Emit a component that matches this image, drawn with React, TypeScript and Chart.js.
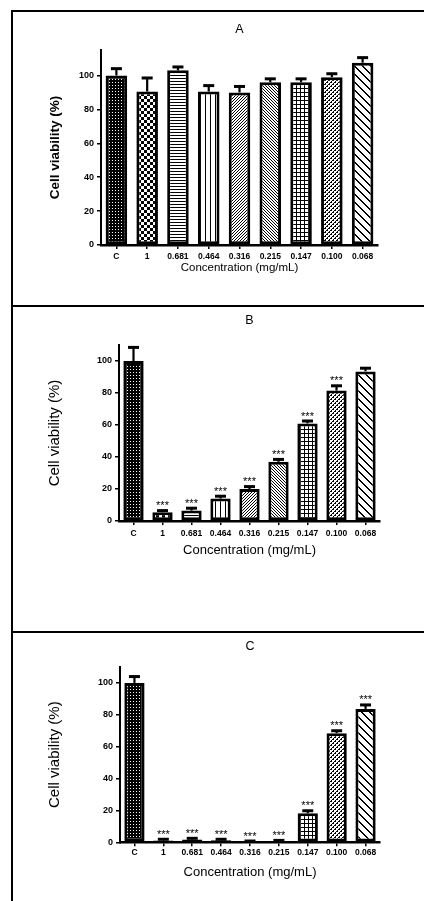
import React, { useEffect, useRef } from 'react';
import { Chart, registerables } from 'chart.js';

Chart.register(...registerables);

// ---------------- DATA ----------------
const categories = ['C', '1', '0.681', '0.464', '0.316', '0.215', '0.147', '0.100', '0.068'];
const yTickValues = [0, 20, 40, 60, 80, 100];
const panelTitles = ['A', 'B', 'C'];
const yAxisTitle = 'Cell viability (%)';
const xAxisTitle = 'Concentration (mg/mL)';

const valuesA = [100, 90.5, 103, 90.5, 90, 96, 96, 99, 107.5];
const errorsA = [4, 8, 2, 3.5, 3.5, 2, 2, 2, 3];
const starsA = [false, false, false, false, false, false, false, false, false];

const valuesB = [100, 5.5, 6.5, 14, 20, 37, 61, 81.5, 93.5];
const errorsB = [8.5, 1, 1.5, 1.5, 1.5, 1.5, 1.5, 3, 2];
const starsB = [false, true, true, true, true, true, true, true, false];

const valuesC = [100, 1.2, 1.8, 1.3, 0.5, 0.8, 18.2, 68.5, 83.7];
const errorsC = [4, 0.7, 0.7, 0.6, 0.3, 0.4, 1.6, 1.5, 2.5];
const starsC = [false, true, true, true, true, true, true, true, true];

const patternKinds = ['dots', 'checker', 'hlines', 'vlines', 'diagF', 'diagB', 'grid', 'diagCross', 'wideDiag'];

const FONT = "'Liberation Sans', Arial, Helvetica, sans-serif";

// ---------------- PATTERNS ----------------
function makePattern(kind: string): CanvasPattern | string {
  const c = document.createElement('canvas');
  let w = 4, h = 4;
  let px: (x: number, y: number) => boolean = () => false;
  let bg = '#fff', fg = '#000';
  switch (kind) {
    case 'dots':
      w = 3; h = 3; bg = '#000'; fg = '#fff';
      px = (x, y) => x === 1 && y === 1;
      break;
    case 'checker':
      w = 6; h = 6;
      px = (x, y) => (Math.floor(x / 3) + Math.floor(y / 3)) % 2 === 0;
      break;
    case 'hlines':
      w = 1; h = 3;
      px = (_x, y) => y === 0;
      break;
    case 'vlines':
      w = 5; h = 1;
      px = (x) => x === 0;
      break;
    case 'diagF':
      w = 3; h = 3;
      px = (x, y) => (x + y) % 3 === 0;
      break;
    case 'diagB':
      w = 3; h = 3;
      px = (x, y) => (x - y + 3) % 3 === 0;
      break;
    case 'grid':
      w = 4; h = 4;
      px = (x, y) => x === 0 || y === 0;
      break;
    case 'diagCross':
      w = 4; h = 4;
      px = (x, y) => (x + y) % 4 === 0 || ((x + y) % 4 === 1 && y % 2 === 0);
      break;
    case 'wideDiag':
      w = 8; h = 8;
      px = (x, y) => { const d = ((x - y) % 8 + 8) % 8; return d === 0 || d === 1; };
      break;
  }
  c.width = w; c.height = h;
  const ctx = c.getContext('2d')!;
  ctx.fillStyle = bg;
  ctx.fillRect(0, 0, w, h);
  ctx.fillStyle = fg;
  for (let y = 0; y < h; y++) for (let x = 0; x < w; x++) if (px(x, y)) ctx.fillRect(x, y, 1, 1);
  const p = ctx.createPattern(c, 'repeat');
  return p || '#888';
}

// ---------------- PANEL ----------------
interface Geo {
  canvasH: number;
  left: number;
  right: number;
  areaTop: number;
  areaBottom: number;
  titleCenter: number;
  titleSize: number;
  yTitleX: number;
  yTitleSize: number;
  yTitleBold: boolean;
  xTitleCenter: number;
  xTitleSize: number;
  xTickPad: number;
  yMax: number;
}

function Panel(props: { top: number; title: string; values: number[]; errors: number[]; stars: boolean[]; geo: Geo }) {
  const ref = useRef<HTMLCanvasElement | null>(null);
  const { top, title, values, errors, stars, geo } = props;

  useEffect(() => {
    const canvas = ref.current!;
    const patterns = patternKinds.map(makePattern);

    const titleLH = geo.titleSize * 1.2;
    const titlePadTop = geo.titleCenter - titleLH / 2;
    const titlePadBottom = geo.areaTop - titlePadTop - titleLH;

    const yTitleLH = geo.yTitleSize * 1.2;
    const xTitleLH = geo.xTitleSize * 1.2;
    const xScaleH = geo.xTitleCenter - geo.areaBottom + xTitleLH / 2;
    const padBottom = geo.canvasH - geo.areaBottom - xScaleH;

    const errPlugin = {
      id: 'errbars',
      afterDatasetsDraw(chart: any) {
        const ctx = chart.ctx as CanvasRenderingContext2D;
        const meta = chart.getDatasetMeta(0);
        const ys = chart.scales.y;
        ctx.save();
        ctx.strokeStyle = '#000';
        ctx.fillStyle = '#000';
        meta.data.forEach((bar: any, i: number) => {
          const x = bar.x;
          const yv = ys.getPixelForValue(values[i]);
          const ye = ys.getPixelForValue(values[i] + errors[i]);
          ctx.lineWidth = 2.2;
          ctx.beginPath();
          ctx.moveTo(x, yv);
          ctx.lineTo(x, ye);
          ctx.stroke();
          ctx.lineWidth = 3;
          ctx.beginPath();
          ctx.moveTo(x - 5.5, ye);
          ctx.lineTo(x + 5.5, ye);
          ctx.stroke();
          if (stars[i]) {
            ctx.font = `11px ${FONT}`;
            ctx.textAlign = 'center';
            ctx.textBaseline = 'alphabetic';
            ctx.fillText('***', x, ye - 1.5);
          }
        });
        ctx.restore();
      },
    };

    const chart = new Chart(canvas, {
      type: 'bar',
      data: {
        labels: categories,
        datasets: [
          {
            data: values,
            backgroundColor: patterns as any,
            borderColor: '#000',
            borderWidth: 3,
            borderSkipped: false,
            categoryPercentage: 1,
            barPercentage: 0.7,
          },
        ],
      },
      options: {
        animation: false,
        responsive: false,
        devicePixelRatio: 1,
        layout: {
          padding: { left: 0, top: 0, right: 424 - geo.right, bottom: padBottom },
        },
        plugins: {
          legend: { display: false },
          tooltip: { enabled: false },
          title: {
            display: true,
            text: title,
            fullSize: false,
            color: '#000',
            font: { family: FONT, size: geo.titleSize, weight: 'normal' },
            padding: { top: titlePadTop, bottom: titlePadBottom },
          },
        },
        scales: {
          x: {
            type: 'category',
            offset: true,
            afterFit: (s: any) => { s.height = xScaleH; },
            grid: {
              display: true,
              offset: false,
              drawOnChartArea: false,
              drawTicks: true,
              tickLength: 4,
              color: '#000',
              lineWidth: 1.5,
            },
            border: { display: true, color: '#000', width: 2.5, dash: [2, 1] },
            ticks: {
              color: '#000',
              font: { family: FONT, size: 8.5, weight: 'bold' },
              padding: geo.xTickPad,
              maxRotation: 0,
              autoSkip: false,
            },
            title: {
              display: true,
              text: xAxisTitle,
              color: '#000',
              font: { family: FONT, size: geo.xTitleSize, weight: 'normal' },
              padding: { top: 0, bottom: 0 },
            },
          },
          y: {
            type: 'linear',
            min: 0,
            max: geo.yMax,
            afterFit: (s: any) => { s.width = geo.left; },
            afterBuildTicks: (s: any) => { s.ticks = yTickValues.map((v) => ({ value: v })); },
            grid: {
              display: true,
              drawOnChartArea: false,
              drawTicks: true,
              tickLength: 4,
              color: '#000',
              lineWidth: 1.5,
            },
            border: { display: true, color: '#000', width: 2 },
            ticks: {
              color: '#000',
              font: { family: FONT, size: 9, weight: 'bold' },
              padding: 3,
            },
            title: {
              display: true,
              text: yAxisTitle,
              color: '#000',
              font: { family: FONT, size: geo.yTitleSize, weight: geo.yTitleBold ? 'bold' : 'normal' },
              padding: { top: geo.yTitleX - yTitleLH / 2, bottom: 0 },
            },
          },
        },
      },
      plugins: [errPlugin],
    } as any);
    return () => chart.destroy();
  }, []);

  return (
    <canvas
      ref={ref}
      width={424}
      height={geo.canvasH}
      style={{ position: 'absolute', left: 0, top, width: 424, height: geo.canvasH }}
    />
  );
}

const geoA: Geo = {
  canvasH: 305, left: 101, right: 378, areaTop: 50, areaBottom: 245,
  titleCenter: 29.3, titleSize: 12.5,
  yTitleX: 55, yTitleSize: 13.5, yTitleBold: true,
  xTitleCenter: 268, xTitleSize: 11.5, xTickPad: 3, yMax: 115,
};
const geoB: Geo = {
  canvasH: 326, left: 119, right: 380, areaTop: 40, areaBottom: 216,
  titleCenter: 16, titleSize: 12.5,
  yTitleX: 55, yTitleSize: 15, yTitleBold: false,
  xTitleCenter: 245, xTitleSize: 13, xTickPad: 3.5, yMax: 110,
};
const geoC: Geo = {
  canvasH: 270, left: 120, right: 380, areaTop: 36, areaBottom: 211.3,
  titleCenter: 15.7, titleSize: 12.5,
  yTitleX: 55, yTitleSize: 15, yTitleBold: false,
  xTitleCenter: 241, xTitleSize: 13, xTickPad: 1.5, yMax: 110,
};

export default function App() {
  const line = (s: React.CSSProperties) => <div style={{ position: 'absolute', background: '#000', ...s }} />;
  return (
    <div style={{ position: 'absolute', left: 0, top: 0, width: 424, height: 901, background: '#fff', overflow: 'hidden' }}>
      <Panel top={0} title={panelTitles[0]} values={valuesA} errors={errorsA} stars={starsA} geo={geoA} />
      <Panel top={305} title={panelTitles[1]} values={valuesB} errors={errorsB} stars={starsB} geo={geoB} />
      <Panel top={631} title={panelTitles[2]} values={valuesC} errors={errorsC} stars={starsC} geo={geoC} />
      {line({ left: 11, top: 10, width: 413, height: 2 })}
      {line({ left: 11, top: 10, width: 2, height: 891 })}
      {line({ left: 11, top: 305, width: 413, height: 2 })}
      {line({ left: 11, top: 631, width: 413, height: 2 })}
    </div>
  );
}
